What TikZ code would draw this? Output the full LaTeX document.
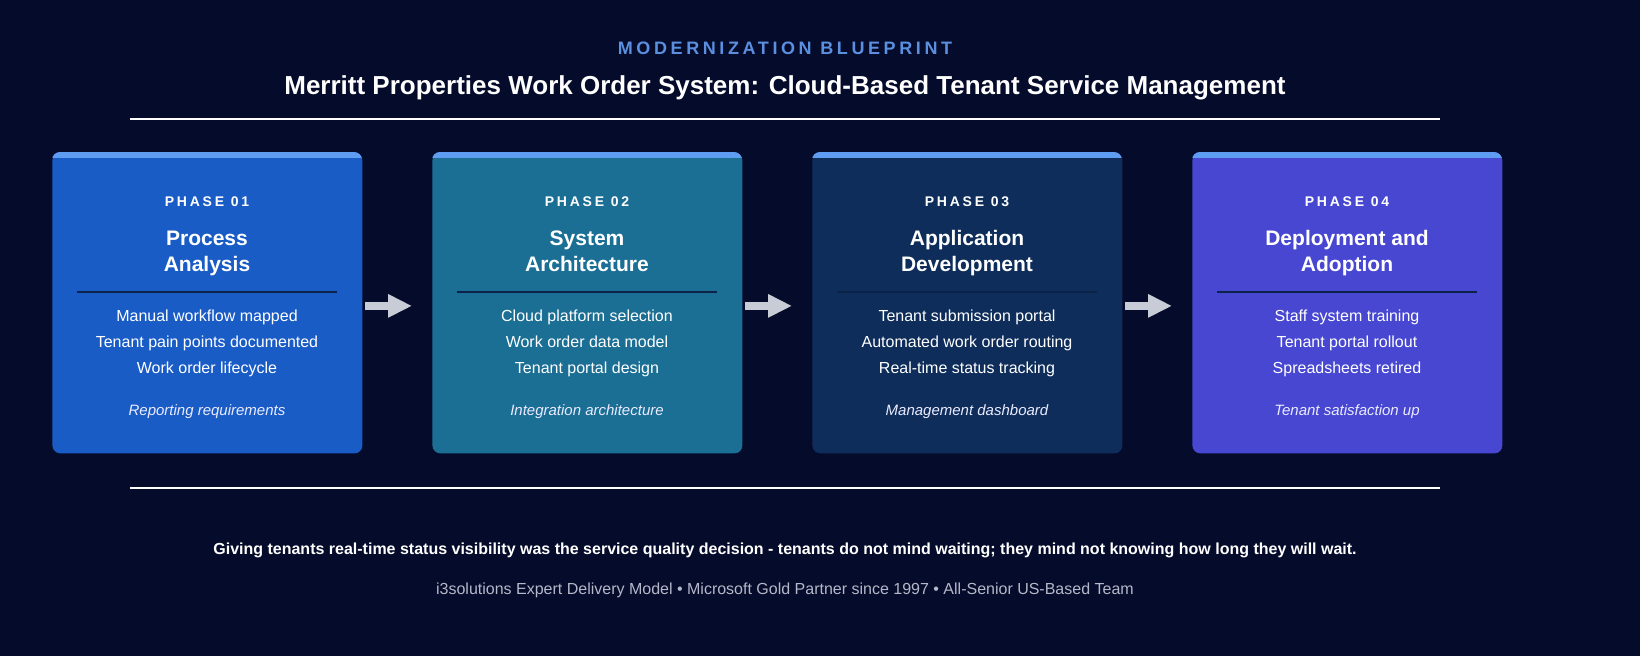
\documentclass[tikz,border=0pt]{standalone}
\usepackage{fontspec}
\setmainfont{Liberation Sans}
\usetikzlibrary{arrows.meta}
\definecolor{bg}{HTML}{050B2A}
\definecolor{topbar}{HTML}{5E9DF2}
\definecolor{cA}{HTML}{1A5CC6}
\definecolor{cB}{HTML}{1B6F95}
\definecolor{cC}{HTML}{0E2D5A}
\definecolor{cD}{HTML}{4747D2}
\definecolor{accent}{HTML}{5B8FE0}
\definecolor{divl}{HTML}{0B2348}
\definecolor{foot}{HTML}{B4B8C8}
\definecolor{arr}{HTML}{C8CCD6}
\newcommand{\spaced}[1]{{\addfontfeatures{LetterSpace=20}#1}}
\tikzset{
  phasebox/.style={rounded corners=4pt, minimum width=155pt, minimum height=150.5pt, inner sep=0pt, anchor=north west},
  ptxt/.style={text=white, align=center, anchor=base, inner sep=0pt},
  plabel/.style={ptxt, font=\fontsize{7}{8}\selectfont\bfseries},
  phead/.style={ptxt, font=\fontsize{10.5}{13}\selectfont\bfseries},
  pitem/.style={ptxt, font=\fontsize{8}{13}\selectfont},
  pital/.style={ptxt, font=\fontsize{7.5}{9}\selectfont\itshape, text=white!92!blue},
  flow/.style={-{Triangle[length=12pt,width=11pt]}, line width=4pt, arr}
}
\begin{document}
\begin{tikzpicture}[x=0.5pt,y=-0.5pt]
\fill[bg] (0,0) rectangle (1640,656);
\useasboundingbox (0,0) rectangle (1640,656);
\node[text=accent, font=\fontsize{9}{11}\selectfont\bfseries] (kick) at (785,48) {\spaced{MODERNIZATION BLUEPRINT}};
\node[text=white, font=\fontsize{13}{15}\selectfont\bfseries] (title) at (785,88) {Merritt Properties Work Order System: Cloud-Based Tenant Service Management};
\coordinate (l1a) at (130,119); \coordinate (l1b) at (1440,119);
\draw[white, line width=1.2pt] (l1a) -- (l1b);
\coordinate (l2a) at (130,488); \coordinate (l2b) at (1440,488);
\draw[white, line width=1.2pt] (l2a) -- (l2b);

\foreach \i/\x/\c/\num/\ha/\hb/\ia/\ib/\ic/\itx in {
 1/52/cA/01/Process/Analysis/Manual workflow mapped/Tenant pain points documented/Work order lifecycle/Reporting requirements,
 2/432/cB/02/System/Architecture/Cloud platform selection/Work order data model/Tenant portal design/Integration architecture,
 3/812/cC/03/Application/Development/Tenant submission portal/Automated work order routing/Real-time status tracking/Management dashboard,
 4/1192/cD/04/Deployment and/Adoption/Staff system training/Tenant portal rollout/Spreadsheets retired/Tenant satisfaction up}{
  \node[phasebox, fill=\c] (box\i) at (\x,152) {};
  \begin{scope}
   \clip[rounded corners=4pt] (\x,152) rectangle (\x+310,453);
   \fill[topbar] (\x,152) rectangle (\x+310,158);
  \end{scope}
  \node[plabel] (lab\i) at (\x+155,207) {\spaced{PHASE \num}};
  \node[phead] (ha\i) at (\x+155,245.5) {\ha};
  \node[phead] (hb\i) at (\x+155,271.5) {\hb};
  \draw[divl, line width=1pt] (\x+25,292) -- (\x+285,292);
  \node[pitem] (ia\i) at (\x+155,321.5) {\ia};
  \node[pitem] (ib\i) at (\x+155,347.5) {\ib};
  \node[pitem] (ic\i) at (\x+155,373.5) {\ic};
  \node[pital] (it\i) at (\x+155,416) {\itx};
}
\foreach \a/\b in {1/2,2/3,3/4}{
  \draw[flow] ([xshift=1pt,yshift=-1.5pt]box\a.east) -- ([xshift=-10pt,yshift=-1.5pt]box\b.west);
}
\node[text=white, font=\fontsize{8}{10}\selectfont\bfseries] (quote) at (785,550) {Giving tenants real-time status visibility was the service quality decision - tenants do not mind waiting; they mind not knowing how long they will wait.};
\node[text=foot, font=\fontsize{8}{10}\selectfont] (footer) at (785,590) {i3solutions Expert Delivery Model • Microsoft Gold Partner since 1997 • All-Senior US-Based Team};
\end{tikzpicture}
\end{document}
